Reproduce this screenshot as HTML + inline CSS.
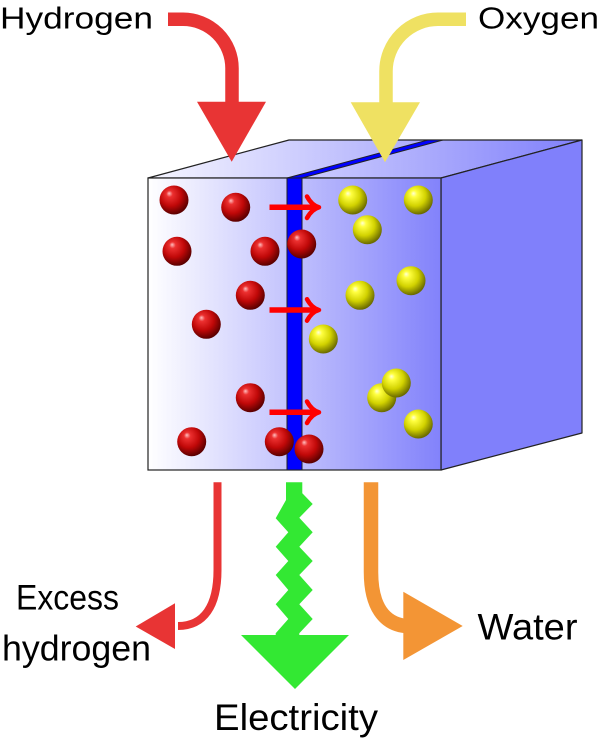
<!DOCTYPE html>
<html>
<head>
<meta charset="utf-8">
<style>
html,body{margin:0;padding:0;background:#fff;}
svg{display:block;}
text{font-family:"Liberation Sans",sans-serif;fill:#000;}
</style>
</head>
<body>
<svg width="600" height="739" viewBox="0 0 600 739" xmlns="http://www.w3.org/2000/svg">
<defs>
  <linearGradient id="gFront" gradientUnits="userSpaceOnUse" x1="148" y1="0" x2="441" y2="0">
    <stop offset="0" stop-color="#ffffff"/>
    <stop offset="1" stop-color="#8282fb"/>
  </linearGradient>
  <linearGradient id="gTop" gradientUnits="userSpaceOnUse" x1="148" y1="0" x2="582" y2="0">
    <stop offset="0" stop-color="#f6f6ff"/>
    <stop offset="1" stop-color="#8080fb"/>
  </linearGradient>
  <radialGradient id="gRed" cx="0.42" cy="0.38" r="0.62" fx="0.33" fy="0.27">
    <stop offset="0" stop-color="#ffc0c0"/>
    <stop offset="0.18" stop-color="#ec3030"/>
    <stop offset="0.6" stop-color="#c00808"/>
    <stop offset="1" stop-color="#5a0000"/>
  </radialGradient>
  <radialGradient id="gYel" cx="0.42" cy="0.38" r="0.62" fx="0.33" fy="0.27">
    <stop offset="0" stop-color="#ffffd8"/>
    <stop offset="0.18" stop-color="#ffff40"/>
    <stop offset="0.6" stop-color="#d2d200"/>
    <stop offset="1" stop-color="#6a6a00"/>
  </radialGradient>
</defs>

<!-- Box -->
<polygon points="148,178 289,140 582,140 441,178" fill="url(#gTop)" stroke="#222" stroke-width="1.2" stroke-linejoin="round"/>
<polygon points="441,178 582,140 582,433 441,470" fill="#8080fb" stroke="#222" stroke-width="1.2" stroke-linejoin="round"/>
<rect x="148" y="178" width="293" height="292" fill="url(#gFront)" stroke="#222" stroke-width="1.2"/>

<!-- Membrane -->
<polygon points="287,178 302,178 443,140 428,140" fill="#0000ff" stroke="#222" stroke-width="1"/>
<rect x="287" y="178" width="15" height="292" fill="#0000ff" stroke="#222" stroke-width="1"/>

<!-- Red balls -->
<g fill="url(#gRed)">
  <circle cx="174" cy="200" r="14.5"/>
  <circle cx="235.7" cy="207.3" r="14.5"/>
  <circle cx="177" cy="251.3" r="14.5"/>
  <circle cx="265" cy="251.3" r="14.5"/>
  <circle cx="301.7" cy="244" r="14.5"/>
  <circle cx="250.3" cy="295.3" r="14.5"/>
  <circle cx="206.3" cy="324.3" r="14.5"/>
  <circle cx="250.3" cy="397.7" r="14.5"/>
  <circle cx="191.7" cy="441.7" r="14.5"/>
  <circle cx="279.3" cy="441.7" r="14.5"/>
  <circle cx="309" cy="449" r="14.5"/>
</g>

<!-- Yellow balls -->
<g fill="url(#gYel)">
  <circle cx="352.7" cy="200" r="14.5"/>
  <circle cx="418.3" cy="200" r="14.5"/>
  <circle cx="367.3" cy="229.7" r="14.5"/>
  <circle cx="411" cy="280.7" r="14.5"/>
  <circle cx="360" cy="295.3" r="14.5"/>
  <circle cx="323.3" cy="339" r="14.5"/>
  <circle cx="381.7" cy="397.7" r="14.5"/>
  <circle cx="396.3" cy="383" r="14.5"/>
  <circle cx="418.3" cy="424" r="14.5"/>
</g>

<!-- Small red arrows through membrane -->
<g stroke="#ff0000" fill="none" stroke-linecap="round" stroke-linejoin="round">
  <line x1="269.5" y1="207.3" x2="317" y2="207.3" stroke-width="5.5" stroke-linecap="butt"/>
  <path d="M307,196.5 C310,202 314,206 319,207.3 C314,208.6 310,212.5 307,218" stroke-width="4.5"/>
  <line x1="269.5" y1="310" x2="317" y2="310" stroke-width="5.5" stroke-linecap="butt"/>
  <path d="M307,299.2 C310,304.7 314,308.7 319,310 C314,311.3 310,315.2 307,320.7" stroke-width="4.5"/>
  <line x1="269.5" y1="412.3" x2="317" y2="412.3" stroke-width="5.5" stroke-linecap="butt"/>
  <path d="M307,401.5 C310,407 314,411 319,412.3 C314,413.6 310,417.5 307,423" stroke-width="4.5"/>
</g>

<!-- Hydrogen in arrow -->
<path d="M168,19.3 L183,19.3 A49,49 0 0 1 232,68.3 L232,104" fill="none" stroke="#e83434" stroke-width="13.5"/>
<polygon points="197,101.7 266,101.7 231.7,161.7" fill="#e83434"/>

<!-- Oxygen in arrow -->
<path d="M466,19.3 L438,19.3 A52,52 0 0 0 386,71.3 L386,104" fill="none" stroke="#efe162" stroke-width="13.5"/>
<polygon points="350.7,102.3 420,102.3 385,162.3" fill="#efe162"/>

<!-- Excess hydrogen out arrow -->
<path d="M217.5,482.3 L217.5,570 C217.5,606 204,626 178,626" fill="none" stroke="#e83434" stroke-width="8"/>
<polygon points="175,603.3 175,649 135.7,626.5" fill="#e83434"/>

<!-- Water out arrow -->
<path d="M371,482.3 L371,572 C371,606 384,624 406,626" fill="none" stroke="#f39535" stroke-width="14.5"/>
<polygon points="403.3,591.7 403.3,660 462.7,626" fill="#f39535"/>

<!-- Electricity zigzag arrow -->
<polygon fill="#33e833" points="286,482.3 302.3,482.3 302.3,493.3 312.7,504 299.3,517.7 312.7,532.3 299.3,546.7 312.7,561 299.3,575 312.7,590 299.3,604.3 312.7,619 299.3,633.3 299.3,635 349,635 295,689 241,635 275.7,635 275.7,633.3 288.3,619 275.7,604.3 288.3,590 275.7,575 288.3,561 275.7,546.7 288.3,532.3 275.7,518.3 286,500"/>

<!-- Labels -->
<text x="0" y="28.3" font-size="31" textLength="153" lengthAdjust="spacingAndGlyphs">Hydrogen</text>
<text x="478" y="28.3" font-size="31" textLength="121" lengthAdjust="spacingAndGlyphs">Oxygen</text>
<text x="16" y="609.5" font-size="35" textLength="103" lengthAdjust="spacingAndGlyphs">Excess</text>
<text x="2" y="660.7" font-size="36" textLength="149" lengthAdjust="spacingAndGlyphs">hydrogen</text>
<text x="477.5" y="639.5" font-size="37" textLength="100" lengthAdjust="spacingAndGlyphs">Water</text>
<text x="214" y="730" font-size="37" textLength="164" lengthAdjust="spacingAndGlyphs">Electricity</text>
</svg>
</body>
</html>
